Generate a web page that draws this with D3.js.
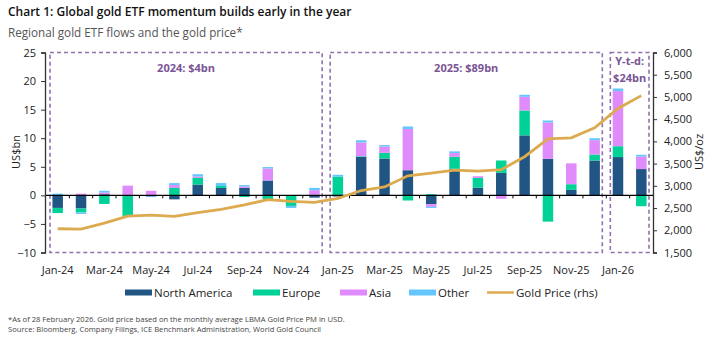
<!DOCTYPE html>
<html>
<head>
<meta charset="utf-8">
<script src="https://cdn.jsdelivr.net/npm/d3@7"></script>
<style>
  body { margin: 0; background: #fff; }
  svg { font-family: 'Open Sans', 'Noto Sans', sans-serif; display: block; }
</style>
</head>
<body>
<div id="chart"></div>
<script>
'use strict';

const months = ['Jan-24','Feb-24','Mar-24','Apr-24','May-24','Jun-24','Jul-24','Aug-24','Sep-24','Oct-24','Nov-24','Dec-24',
  'Jan-25','Feb-25','Mar-25','Apr-25','May-25','Jun-25','Jul-25','Aug-25','Sep-25','Oct-25','Nov-25','Dec-25',
  'Jan-26','Feb-26'];
const northAmerica = [-2.2,-2.3,0.2,0,-0.2,-0.7,1.9,1.3,1.3,2.6,-0.1,-0.4, -0.2,6.75,6.45,4.4,-1.55,4.65,1.35,3.95,10.5,6.4,0.95,6.1, 6.7,4.6];
const europe       = [-0.9,-0.7,-1.5,-3.6,0,1.3,1.15,0.35,-0.3,-0.7,-1.75,0.1, 3.25,0.1,1.0,-0.9,0.2,2.1,1.7,2.15,4.35,-4.6,1.0,1.05, 1.9,-1.9];
const asia         = [0,0.3,0.3,1.7,0.8,0.5,0.25,0,0.25,2.1,0,0.8, 0,2.4,1.1,7.2,-0.45,0.65,0.3,-0.6,2.4,6.35,3.65,2.5, 9.65,2.2];
const other        = [0.3,-0.25,0.3,-0.15,-0.1,0.35,0.4,0.5,0.25,0.25,-0.35,0.4, 0.35,0.4,0.25,0.45,-0.2,0.3,-0.1,0,0.35,0.35,0,0.35, 0.45,0.3];
const goldPrice    = [2034,2024,2159,2320,2340,2315,2395,2472,2571,2690,2650,2630,2715,2895,2975,3225,3285,3352,3330,3365,3655,4058,4080,4305,4740,5030];

const seriesKeys = ['North America','Europe','Asia','Other'];
const seriesColors = ['#215584','#00d197','#df8bfb','#64c6fd'];
const goldColor = '#dcaa4f';

const leftTicks = [-10,-5,0,5,10,15,20,25];
const rightTicks = [1500,2000,2500,3000,3500,4000,4500,5000,5500,6000];
const xTickLabels = months.filter((d, i) => !(i % 2));

const periods = [
  {label: ['2024: $4bn'], from: 'Jan-24', to: 'Dec-24'},
  {label: ['2025: $89bn'], from: 'Jan-25', to: 'Dec-25'},
  {label: ['Y-t-d:', '$24bn'], from: 'Jan-26', to: 'Feb-26'}
];

const W = 715, H = 337;
const $svg = d3.select('#chart').append('svg').attr('width', W).attr('height', H);

const x = d3.scaleBand().domain(months).range([46, 653]).paddingInner(0.55).paddingOuter(0.275);
const gap = (x.step() - x.bandwidth()) / 2;
const y = d3.scaleLinear().domain([-10, 25]).range([252.5, 52.5]);
const y2 = d3.scaleLinear().domain([1500, 6000]).range([252.5, 52.5]);

// titles
$svg.append('text').attr('x', 8).attr('y', 16)
  .attr('font-size', 12).attr('font-weight', 600).attr('fill', '#111')
  .text('Chart 1: Global gold ETF momentum builds early in the year');
$svg.append('text').attr('x', 8).attr('y', 37)
  .attr('font-size', 11.7).attr('fill', '#555')
  .text('Regional gold ETF flows and the gold price*');

// period boxes
const $boxes = $svg.append('g');
periods.forEach((p) => {
  const x0 = x(p.from) - gap + 4;
  const x1 = x(p.to) + x.bandwidth() + gap - 4;
  $boxes.append('rect')
    .attr('x', x0).attr('y', y(25))
    .attr('width', x1 - x0).attr('height', y(-10) - y(25))
    .attr('fill', 'none').attr('stroke', '#9272ad')
    .attr('stroke-width', 1.6).attr('stroke-dasharray', '4,3');
  p.label.forEach((t, i) => {
    $boxes.append('text')
      .attr('x', (x0 + x1) / 2).attr('y', (p.label.length > 1 ? 65 : 72) + i * 17)
      .attr('text-anchor', 'middle').attr('font-size', 11).attr('font-weight', 700)
      .attr('fill', '#7a5596').text(t);
  });
});

// stacked bars
const table = months.map((m, i) => ({
  month: m,
  'North America': northAmerica[i],
  'Europe': europe[i],
  'Asia': asia[i],
  'Other': other[i]
}));
const stacked = d3.stack().keys(seriesKeys).offset(d3.stackOffsetDiverging)(table);

$svg.append('g').selectAll('g')
  .data(stacked)
  .enter()
  .append('g')
  .attr('fill', (d, i) => seriesColors[i])
  .selectAll('rect')
  .data((d) => d)
  .enter()
  .append('rect')
  .attr('x', (d) => x(d.data.month))
  .attr('width', x.bandwidth())
  .attr('y', (d) => y(Math.max(d[0], d[1])))
  .attr('height', (d) => Math.abs(y(d[0]) - y(d[1])));

// zero line + small ticks between months
const $zero = $svg.append('g');
$zero.append('line')
  .attr('x1', 46).attr('x2', 653).attr('y1', y(0)).attr('y2', y(0))
  .attr('stroke', '#000').attr('stroke-width', 1.3);
$zero.selectAll('.mt')
  .data(months.slice(1))
  .enter()
  .append('line')
  .attr('x1', (d) => x(d) - gap)
  .attr('x2', (d) => x(d) - gap)
  .attr('y1', y(0)).attr('y2', y(0) + 3)
  .attr('stroke', '#000').attr('stroke-width', 1);

// gold line
const line = d3.line()
  .x((d, i) => x(months[i]) + x.bandwidth() / 2)
  .y((d) => y2(d));
$svg.append('path')
  .datum(goldPrice)
  .attr('fill', 'none').attr('stroke', goldColor).attr('stroke-width', 2.8)
  .attr('d', line);

// axes
const $left = $svg.append('g').attr('transform', 'translate(45,0)')
  .call(d3.axisLeft(y).tickValues(leftTicks).tickSize(4).tickPadding(5));
const $right = $svg.append('g').attr('transform', 'translate(653,0)')
  .call(d3.axisRight(y2).tickValues(rightTicks).tickSize(4).tickPadding(7).tickFormat(d3.format(',')));
[$left, $right].forEach(($a) => {
  $a.select('.domain').attr('stroke', '#333').attr('stroke-width', 1.3);
  $a.selectAll('.tick line').attr('stroke', '#333');
  $a.selectAll('.tick text').attr('font-size', 11).attr('fill', '#222')
    .attr('font-family', "'Open Sans', sans-serif");
});

$svg.append('g').selectAll('text')
  .data(xTickLabels)
  .enter()
  .append('text')
  .attr('x', (d) => x(d) + x.bandwidth() / 2)
  .attr('y', 274)
  .attr('text-anchor', 'middle').attr('font-size', 11).attr('fill', '#222')
  .text((d) => d);

$svg.append('text')
  .attr('transform', 'translate(20,152) rotate(-90)')
  .attr('text-anchor', 'middle').attr('font-size', 11).attr('fill', '#222')
  .text('US$bn');
$svg.append('text')
  .attr('transform', 'translate(703,152) rotate(-90)')
  .attr('text-anchor', 'middle').attr('font-size', 11).attr('fill', '#222')
  .text('US$/oz');

// legend
const legendItems = seriesKeys.map((k, i) => ({name: k, color: seriesColors[i], type: 'bar'}))
  .concat([{name: 'Gold Price (rhs)', color: goldColor, type: 'line'}]);
const legendX = [125, 253, 340, 409, 487];
const $legend = $svg.append('g');
legendItems.forEach((d, i) => {
  const $g = $legend.append('g').attr('transform', 'translate(' + legendX[i] + ',292)');
  if (d.type === 'bar') {
    $g.append('rect').attr('x', 0).attr('y', -2.5).attr('width', 27).attr('height', 6).attr('fill', d.color);
  } else {
    $g.append('line').attr('x1', 0).attr('x2', 27).attr('y1', 0.5).attr('y2', 0.5)
      .attr('stroke', d.color).attr('stroke-width', 2.5);
  }
  $g.append('text').attr('x', 29).attr('y', 4.5).attr('font-size', 11.5).attr('fill', '#222').text(d.name);
});

// footnotes
$svg.append('text').attr('x', 8).attr('y', 322).attr('font-size', 7.6).attr('fill', '#444')
  .text('*As of 28 February 2026. Gold price based on the monthly average LBMA Gold Price PM in USD.');
$svg.append('text').attr('x', 8).attr('y', 332).attr('font-size', 7.6).attr('fill', '#444')
  .text('Source: Bloomberg, Company Filings, ICE Benchmark Administration, World Gold Council');
</script>
</body>
</html>
